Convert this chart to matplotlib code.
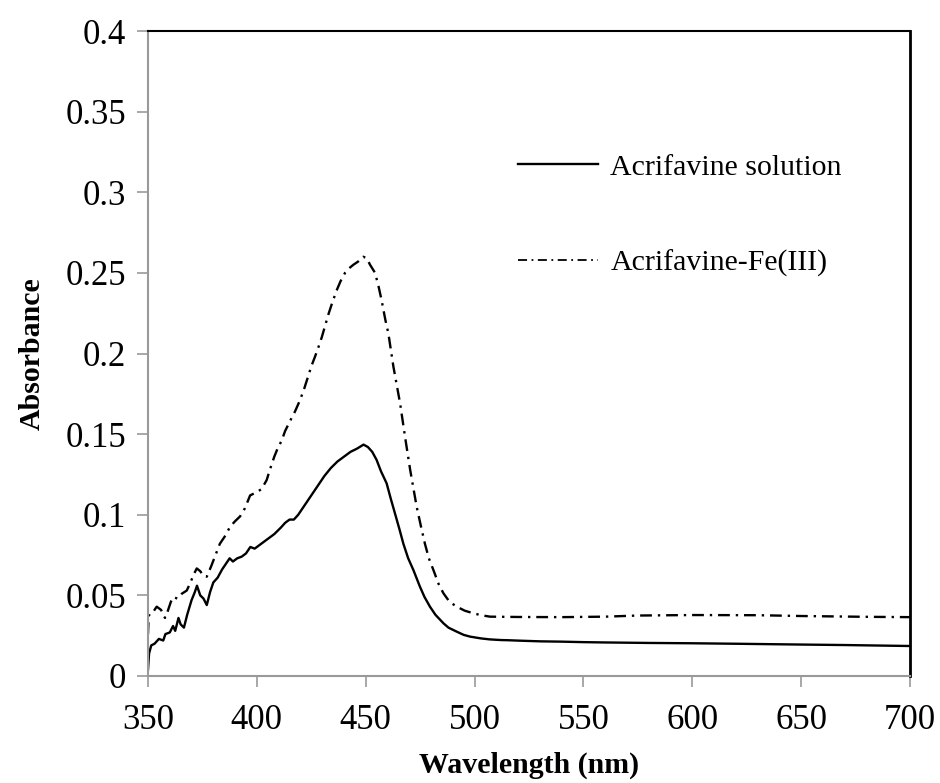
import matplotlib
matplotlib.use("Agg")
import matplotlib.pyplot as plt
from matplotlib.lines import Line2D

plt.rcParams['font.family'] = ['Liberation Serif', 'DejaVu Serif']

# Acrifavine solution (solid)
wl_sol = [350, 350.5, 351.5, 353, 355, 357, 358, 360, 361.5, 362.5, 364, 365, 366.5, 368,
          370, 371.5, 372.5, 374, 375.5, 377, 378.5, 380, 382, 384, 386, 387.5, 389, 391,
          393, 395, 397, 399, 401, 403, 405, 408, 411, 413, 415, 417, 419, 421, 423, 425,
          428, 431, 434, 437, 440, 443, 446, 449, 451, 453, 455, 457, 459.6, 461.5, 463.4,
          465.5, 467.3, 469.5, 471.9, 474.9, 477, 479.5, 482, 485.7, 488, 491.8, 495, 498,
          503, 507, 512, 515, 521, 530, 540, 550, 560, 580, 600, 620, 650, 670, 690, 700]
abs_sol = [0.004, 0.014, 0.019, 0.020, 0.023, 0.022, 0.026, 0.027, 0.031, 0.028, 0.036, 0.032,
           0.030, 0.038, 0.047, 0.052, 0.056, 0.050, 0.048, 0.044, 0.052, 0.058, 0.061, 0.066,
           0.070, 0.073, 0.071, 0.073, 0.074, 0.076, 0.080, 0.079, 0.081, 0.083, 0.085, 0.088,
           0.092, 0.095, 0.097, 0.097, 0.100, 0.104, 0.108, 0.112, 0.118, 0.124, 0.129, 0.133,
           0.136, 0.139, 0.141, 0.1435, 0.142, 0.139, 0.134, 0.127, 0.1195, 0.110, 0.101, 0.091,
           0.082, 0.073, 0.0657, 0.0554, 0.049, 0.043, 0.038, 0.0327, 0.030, 0.0275, 0.0255,
           0.0244, 0.0233, 0.0227, 0.0223, 0.0222, 0.0219, 0.0215, 0.0213, 0.0210, 0.0208,
           0.0205, 0.0203, 0.0200, 0.0195, 0.0192, 0.0188, 0.0186]

# Acrifavine-Fe(III) (dash-dot)
wl_fe = [350, 350.3, 351, 352.5, 354, 356, 357.8, 359, 360.5, 361.6, 363.5, 365.5, 367.8, 369.5,
         371, 372.4, 374, 375.5, 377, 379, 381, 383, 385.5, 387.7, 390, 392.3, 394.5, 396.9,
         398.4, 400, 402.2, 404.5, 406, 408, 409.5, 411.4, 413, 415.2, 417.5, 419.8, 421.7,
         423.6, 425, 426.7, 428.3, 429.8, 431.3, 432.8, 434.5, 436.6, 438.5, 440.5, 442.5,
         444.3, 446.5, 448.9, 450.5, 452, 454.3, 456, 457.3, 459, 460.4, 462.7, 465.8, 468.1,
         470.4, 473.4, 475.5, 477.2, 479, 481.1, 483.5, 485.7, 488.5, 491.8, 495.5, 499.4, 503,
         507.1, 520, 540, 560, 575, 600, 630, 650, 680, 700]
abs_fe = [0.026, 0.037, 0.039, 0.040, 0.043, 0.041, 0.036, 0.040, 0.046, 0.049, 0.048, 0.051,
          0.053, 0.058, 0.063, 0.0667, 0.065, 0.062, 0.0616, 0.068, 0.075, 0.082, 0.087, 0.0926,
          0.096, 0.099, 0.104, 0.112, 0.113, 0.114, 0.116, 0.1215, 0.128, 0.136, 0.141, 0.146,
          0.152, 0.158, 0.164, 0.171, 0.178, 0.186, 0.192, 0.198, 0.204, 0.210, 0.217, 0.224,
          0.231, 0.239, 0.245, 0.250, 0.253, 0.255, 0.257, 0.260, 0.259, 0.255, 0.250, 0.241,
          0.233, 0.221, 0.2125, 0.192, 0.169, 0.148, 0.128, 0.105, 0.092, 0.082, 0.073, 0.0657,
          0.057, 0.0513, 0.046, 0.043, 0.0405, 0.0389, 0.0377, 0.0368, 0.0366, 0.0365, 0.0368,
          0.0375, 0.0378, 0.0377, 0.0372, 0.0367, 0.0365]

x_ticks = [350, 400, 450, 500, 550, 600, 650, 700]
y_ticks = [0, 0.05, 0.1, 0.15, 0.2, 0.25, 0.3, 0.35, 0.4]
y_labels = ['0', '0.05', '0.1', '0.15', '0.2', '0.25', '0.3', '0.35', '0.4']
series_labels = ['Acrifavine solution', 'Acrifavine-Fe(III)']

fig = plt.figure(figsize=(9.4, 7.83), dpi=100)
ax = fig.add_axes([148/940, 107/783, 762/940, 645/783])

ax.plot(wl_sol, abs_sol, color='black', lw=1.7, solid_joinstyle='round')
ax.plot(wl_fe, abs_fe, color='black', lw=1.7, linestyle=(0, (5, 2.5, 1, 2.5)))

ax.set_xlim(350, 700)
ax.set_ylim(0, 0.4)
ax.set_xticks(x_ticks)
ax.set_xticklabels([str(v) for v in x_ticks])
ax.set_yticks(y_ticks)
ax.set_yticklabels(y_labels)

gray = '#999999'
ax.spines['left'].set_color(gray)
ax.spines['bottom'].set_color(gray)
ax.spines['left'].set_linewidth(1.5)
ax.spines['bottom'].set_linewidth(1.5)
ax.spines['top'].set_color('black')
ax.spines['right'].set_color('black')
ax.spines['top'].set_linewidth(1.5)
ax.spines['right'].set_linewidth(2.0)
ax.tick_params(axis='both', direction='out', length=8, width=1.2, color=gray,
               labelsize=25, labelcolor='black')
ax.tick_params(axis='x', pad=12)
ax.tick_params(axis='y', pad=8)

ax.set_xlabel('Wavelength (nm)', fontsize=21.5, fontweight='bold', labelpad=11)
ax.set_ylabel('Absorbance', fontsize=21.5, fontweight='bold', labelpad=14)

handles = [Line2D([], [], color='black', lw=1.7),
           Line2D([], [], color='black', lw=1.3, linestyle=(0, (5, 2.5, 1, 2.5)))]
leg = ax.legend(handles, series_labels, loc='upper left', bbox_to_anchor=(0.450, 0.851),
                frameon=False, fontsize=21.5, handlelength=2.7, handletextpad=0.4,
                labelspacing=2.3)

fig.savefig('out.png', dpi=100)
